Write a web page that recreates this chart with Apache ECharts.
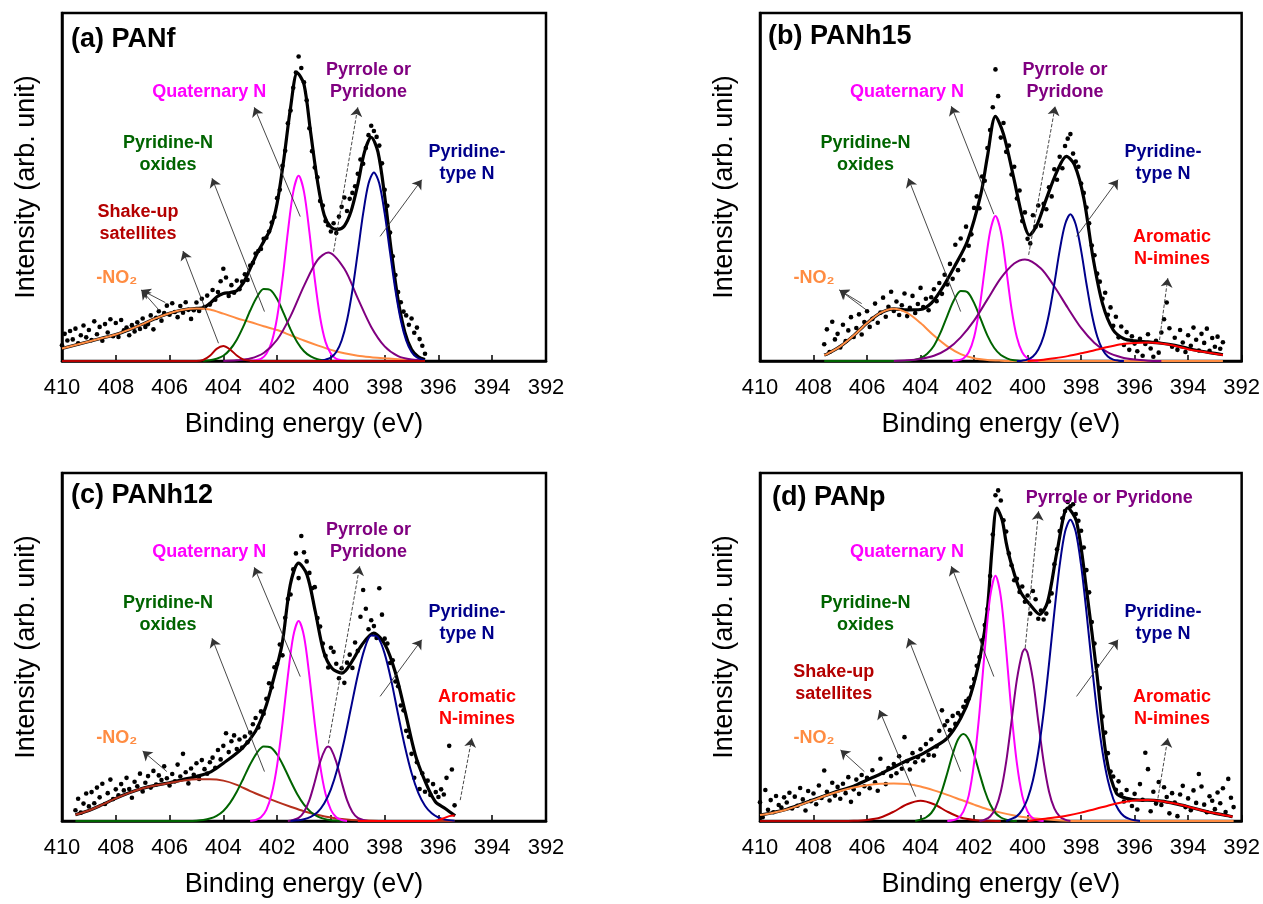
<!DOCTYPE html>
<html>
<head>
<meta charset="utf-8">
<title>XPS N1s deconvolution</title>
<script src="https://cdn.jsdelivr.net/npm/echarts@6/dist/echarts.min.js"></script>
<style>
  html, body { margin: 0; padding: 0; background: #fff; }
  #main { width: 1263px; height: 904px; }
</style>
</head>
<body>
<div id="main"></div>
<script>
// raw spectra are recorded on a 0.1 eV grid, starting at the given binding energy
const rawStep = 0.1;

// ---------- (a) PANf ----------
const aRawStart = 410.0;
const aRaw = [
  4.5, 7.8, 5.9, 8.6, 6.2, 9.3, 5.1, 7.4, 10.2, 6.8,
  8.9, 6.0, 11.4, 7.7, 9.8, 5.8, 10.6, 8.2, 12.0, 7.1,
  10.9, 6.9, 11.8, 8.8, 9.6, 7.4, 10.3, 8.5, 11.1, 9.2,
  12.2, 9.8, 10.6, 13.1, 9.1, 12.4, 14.3, 11.6, 13.8, 15.9,
  13.3, 16.6, 14.1, 12.6, 15.8, 13.9, 16.9, 14.7, 12.1, 14.6,
  16.8, 14.4, 17.9, 15.5, 18.8, 16.2, 20.4, 17.6, 19.8, 22.9,
  26.5, 24.0, 18.7, 21.8, 19.6, 23.1, 20.6, 22.8, 24.9, 23.3,
  27.4, 28.2, 30.9, 31.6, 32.2, 35.1, 35.4, 37.2, 39.8, 41.4,
  46.8, 49.2, 56.1, 60.4, 68.3, 72.0, 78.5, 82.9, 87.5, 84.2,
  80.1, 74.9, 66.9, 60.3, 55.6, 52.8, 46.0, 44.7, 40.2, 39.0,
  37.2, 39.6, 36.8, 41.5, 44.3, 47.0, 43.1, 46.6, 48.3, 50.2,
  53.8, 57.9, 56.7, 61.2, 64.9, 67.6, 66.1, 64.4, 61.9, 56.8,
  49.2, 44.6, 36.9, 30.1, 24.7, 19.8, 16.9, 14.2, 13.1, 10.4,
  12.2, 8.1, 9.6, 6.3, 4.4, 2.1
];
const aEnvelope = [[410,3.6],[409.5,4.6],[409,5.6],[408.5,6.6],[408,7.6],[407.5,9.0],[407,10.6],[406.5,12.3],[406,13.7],[405.5,14.7],[405,15.1],[404.75,15.3],[404.5,16.5],[404.25,18.4],[404,19.4],[403.75,19.7],[403.5,20.2],[403.25,22.5],[403,26.6],[402.75,30.8],[402.5,34.3],[402.25,37.9],[402,45.3],[401.75,58],[401.5,72.8],[401.25,82.8],[401,79.5],[400.75,65.5],[400.5,51.7],[400.25,42],[400,38.5],[399.75,37.8],[399.5,38.8],[399.25,43],[399,50.7],[398.75,60.1],[398.5,64.3],[398.25,60.1],[398,47.4],[397.75,31.4],[397.5,17.5],[397.25,8.3],[397,3.3],[396.75,1.2],[396.5,0.4]];
const aNO2 = [[410,3.6],[409.5,4.6],[409,5.6],[408.5,6.6],[408,7.6],[407.5,9.0],[407,10.6],[406.5,12.3],[406,13.7],[405.5,14.7],[405,15.1],[404.5,14.8],[404,13.6],[403.5,12.3],[403,11.2],[402.5,10.0],[402,8.9],[401.5,7.4],[401,5.9],[400.5,4.5],[400,3.2],[399.5,2.2],[399,1.5],[398.5,1.1],[398,0.8],[397.5,0.5],[397,0.3],[396.5,0.1]];
const aOxide = [[404.75,0],[404.5,0.2],[404.25,0.65],[404,1.5],[403.75,3.3],[403.5,6.1],[403.25,10.0],[403,14.5],[402.75,18.4],[402.5,20.7],[402.25,20.4],[402,17.8],[401.75,13.6],[401.5,9.1],[401.25,5.4],[401,2.8],[400.75,1.3],[400.5,0.5],[400.25,0.2],[400,0]];
const aQuat = [[403,0],[402.8,0.2],[402.6,0.6],[402.4,2.1],[402.2,5.5],[402,12.5],[401.8,23.5],[401.6,37.1],[401.4,48.6],[401.2,53.2],[401,48.6],[400.8,37.1],[400.6,23.5],[400.4,12.5],[400.2,5.5],[400,2.1],[399.8,0.6],[399.6,0.2],[399.4,0]];
const aPyrrole = [[404,0],[403.5,0.2],[403,0.7],[402.5,2.3],[402,6.1],[401.5,12.9],[401,21.6],[400.5,29.0],[400.1,31.2],[399.5,26.5],[399,18.0],[398.5,9.8],[398,4.2],[397.5,1.4],[397,0.4],[396.5,0.1]];
const aPyridine = [[400.4,0],[400.2,0.4],[400,1.0],[399.8,2.6],[399.6,5.9],[399.4,11.7],[399.2,20.3],[399,31.2],[398.8,42.4],[398.6,51.0],[398.4,54.2],[398.2,51.0],[398,42.4],[397.8,31.2],[397.6,20.3],[397.4,11.7],[397.2,5.9],[397,2.6],[396.8,1.0],[396.6,0.4],[396.5,0.2]];
const aShake = [[410,0],[405,0],[404.75,0.3],[404.5,1.5],[404.25,3.5],[404,4.3],[403.75,3.3],[403.5,1.6],[403.25,0.4],[403,0.1],[402.75,0],[396.5,0]];

// ---------- (b) PANh15 ----------
const bRawStart = 407.6;
const bRaw = [
  4.8, 9.1, 2.6, 11.3, 6.2, 7.8, 3.9,
  10.4, 5.7, 8.8, 12.6, 6.9, 9.5, 13.4, 7.6, 11.2, 14.3,
  9.8, 12.1, 16.5, 11.0, 13.9, 18.2, 12.7, 15.6, 19.9, 14.4,
  17.1, 13.2, 16.0, 19.4, 12.9, 15.3, 18.7, 13.8, 16.4, 21.0,
  15.5, 17.9, 14.6, 18.3, 20.6, 17.2, 22.4, 19.3, 24.8, 22.0,
  27.9, 23.6, 33.4, 26.1, 35.2, 29.0, 38.6, 33.1, 36.4, 44.0,
  47.3, 43.9, 53.0, 51.8, 61.2, 66.4, 72.9, 83.8, 76.1, 64.2,
  68.4, 60.1, 61.9, 53.6, 55.8, 46.7, 49.0, 40.2, 42.7, 35.1,
  33.8, 41.9, 38.6, 44.7, 38.9, 45.2, 43.6, 49.9, 47.3, 55.1,
  52.1, 58.7, 55.4, 61.8, 63.9, 65.2, 59.6, 57.3, 55.8, 51.0,
  48.3, 44.1, 39.6, 33.2, 30.4, 25.1, 22.8, 17.9, 19.6, 13.3,
  15.4, 10.1, 12.7, 6.8, 9.9, 4.6, 8.3, 3.2, 7.1, 5.0,
  2.8, 6.4, 1.5, 4.9, 7.7, 3.6, 1.2, 5.8, 2.4, 8.2,
  12.0, 16.8, 9.4, 4.1, 6.7, 3.2, 8.9, 5.3, 2.6, 7.4,
  4.4, 9.6, 6.1, 3.0, 7.8, 5.2, 9.3, 2.9, 6.6, 4.1,
  7.0, 3.5, 5.4
];
const bEnvelope = [[407.6,1.7],[407.5,2.0],[407,4.2],[406.5,7.3],[406,10.9],[405.5,13.8],[405,15.0],[404.5,14.7],[404,14.8],[403.6,16.6],[403.25,20.2],[402.75,26.9],[402.25,34.4],[401.75,47.8],[401.5,58.8],[401.2,70.3],[400.9,65.2],[400.5,52],[400.2,41.5],[399.93,36.2],[399.65,39.1],[399.3,46.6],[398.9,54.5],[398.55,58.8],[398.25,56.4],[397.9,46.8],[397.55,29.5],[397.2,16.5],[396.8,8.9],[396.4,6.4],[396,5.8],[395.5,5.5],[395,5.1],[394.5,4.5],[394,3.6],[393.5,2.8],[393,2.2],[392.7,1.8]];
const bNO2 = [[407.6,1.7],[407.5,2.0],[407,4.2],[406.5,7.3],[406,10.9],[405.5,13.8],[405,15.0],[404.5,13.8],[404,10.9],[403.5,7.3],[403,4.2],[402.5,2.0],[402,0.8],[401.5,0.3],[401,0.1],[400.5,0],[392.7,0]];
const bOxide = [[407.6,0],[404.5,0],[404.25,0.3],[404,0.8],[403.75,2.1],[403.5,4.4],[403.25,8.2],[403,13.0],[402.75,17.5],[402.5,20.1],[402.25,19.8],[402,16.7],[401.75,12.0],[401.5,7.3],[401.25,3.8],[401,1.7],[400.75,0.7],[400.5,0.2],[400.25,0]];
const bQuat = [[402.8,0],[402.6,0.2],[402.4,0.7],[402.2,2.5],[402,6.8],[401.8,15.0],[401.6,26.5],[401.4,37.2],[401.2,41.7],[401,37.2],[400.8,26.5],[400.6,15.0],[400.4,6.8],[400.2,2.5],[400,0.7],[399.8,0.2],[399.6,0]];
const bPyrrole = [[405,0],[404.5,0.2],[404,0.6],[403.5,1.5],[403,3.4],[402.5,6.8],[402,11.6],[401.5,17.7],[401,23.8],[400.5,28.0],[400.1,29.2],[399.5,26.6],[399,21.4],[398.5,15.3],[398,9.5],[397.5,5.2],[397,2.5],[396.5,1.1],[396,0.4],[395.5,0.1],[395,0]];
const bPyridine = [[400.4,0],[400.2,0.1],[400,0.4],[399.8,1.3],[399.6,3.3],[399.4,7.1],[399.2,13.5],[399,22.2],[398.8,31.8],[398.6,39.2],[398.4,42.2],[398.2,39.2],[398,31.8],[397.8,22.2],[397.6,13.5],[397.4,7.1],[397.2,3.3],[397,1.3],[396.8,0.4],[396.6,0.1],[396.4,0]];
const bImine = [[400,0],[399.5,0.3],[399,0.8],[398.5,1.4],[398,2.2],[397.5,3.1],[397,4.0],[396.5,4.8],[396,5.2],[395.5,5.3],[395,5.0],[394.5,4.4],[394,3.4],[393.5,2.7],[393,2.1],[392.7,1.7]];

// ---------- (c) PANh12 ----------
const cRawStart = 409.5;
const cRaw = [
  3.1, 6.4, 2.4, 5.0, 7.9, 4.2,
  8.3, 5.1, 9.6, 6.8, 10.7, 4.9, 8.0, 11.9, 6.3, 9.1,
  7.4, 10.6, 8.8, 12.4, 9.2, 6.7, 11.3, 10.0, 13.6, 8.5,
  11.0, 12.9, 9.6, 14.4, 10.5, 13.1, 11.8, 15.7, 12.3, 10.2,
  13.5, 11.4, 16.2, 12.8, 19.3, 14.0, 10.8, 15.1, 13.3, 16.6,
  12.1, 17.5, 14.9, 13.6, 16.9, 18.2, 15.3, 20.4, 17.7, 21.6,
  25.2, 19.8, 22.9, 24.6, 20.7, 23.4, 21.1, 24.3, 22.6, 25.4,
  27.8, 29.6, 26.9, 31.5, 30.8, 35.1, 39.6, 38.4, 44.2, 45.1,
  50.7, 47.6, 58.4, 63.8, 65.1, 72.3, 76.9, 69.8, 81.9, 77.2,
  74.6, 71.3, 66.9, 67.2, 58.3, 55.9, 51.0, 47.5, 44.1, 49.8,
  48.6, 45.2, 41.0, 43.9, 39.7, 45.5, 47.8, 44.0, 51.3, 48.9,
  58.7, 66.4, 61.0, 55.1, 57.7, 56.0, 52.6, 66.9, 59.3, 52.4,
  51.0, 45.4, 46.2, 40.1, 38.7, 33.2, 31.8, 25.9, 24.2, 19.3,
  12.4, 16.9, 9.2, 13.7, 8.4, 11.6, 7.5, 10.6, 8.3, 6.9,
  9.1, 7.6, 12.4, 21.6, 14.8, 4.5
];
const cEnvelope = [[409.5,1.8],[409,3.0],[408.5,4.7],[408,6.5],[407.5,8.1],[407,9.4],[406.5,10.3],[406,11.0],[405.5,11.9],[405,12.8],[404.45,14.2],[404,16.6],[403.3,20.9],[402.81,25.7],[402.44,32.4],[402.19,39.1],[401.82,50.6],[401.51,67.9],[401.2,74.1],[400.89,70.8],[400.58,60.2],[400.27,48.7],[399.96,43.9],[399.59,42.5],[399.22,45.8],[398.85,50.6],[398.41,54.0],[397.98,50.6],[397.61,42.9],[397.24,31.4],[396.86,19.0],[396.49,11.3],[396.12,5.6],[395.75,3.6],[395.38,1.5]];
const cNO2 = [[409.5,1.8],[409,3.0],[408.5,4.7],[408,6.5],[407.5,8.1],[407,9.4],[406.5,10.3],[406,10.9],[405.5,11.6],[405,12.0],[404.5,12.0],[404,11.6],[403.5,10.4],[403,8.6],[402.5,7.0],[402,5.5],[401.5,4.1],[401,2.8],[400.5,1.8],[400,1.0],[399.5,0.5],[399,0.2],[398,0],[395.4,0]];
const cOxide = [[409.5,0],[405.25,0],[405,0.1],[404.75,0.3],[404.5,0.7],[404.25,1.5],[404,2.9],[403.75,5.2],[403.5,8.4],[403.25,12.3],[403,16.3],[402.75,19.6],[402.5,21.4],[402.25,21.2],[402,19.1],[401.75,15.6],[401.5,11.5],[401.25,7.7],[401,4.7],[400.75,2.6],[400.5,1.3],[400.25,0.6],[400,0.2],[399.75,0.1],[399.5,0]];
const cQuat = [[403,0],[402.8,0.3],[402.6,1.1],[402.4,3.2],[402.2,7.8],[402,16.0],[401.8,28.0],[401.6,41.7],[401.4,53.1],[401.2,57.5],[401,53.1],[400.8,41.7],[400.6,28.0],[400.4,16.0],[400.2,7.8],[400,3.2],[399.8,1.1],[399.6,0.3],[399.4,0]];
const cPyrrole = [[401.6,0],[401.4,0.3],[401.2,0.9],[401,2.6],[400.8,6.0],[400.6,11.2],[400.4,17.0],[400.2,20.8],[400.1,21.4],[400,20.8],[399.8,17.0],[399.6,11.2],[399.4,6.0],[399.2,2.6],[399,0.9],[398.8,0.3],[398.6,0]];
const cPyridine = [[401.5,0],[401.25,0.2],[401,0.5],[400.75,1.2],[400.5,2.5],[400.25,5.0],[400,9.1],[399.75,15.2],[399.5,23.3],[399.25,32.6],[399,41.9],[398.75,49.4],[398.5,53.3],[398.25,52.8],[398,48.1],[397.75,40.2],[397.5,30.6],[397.25,21.5],[397,13.8],[396.75,8.1],[396.5,4.4],[396.25,2.2],[396,1.0],[395.75,0.4],[395.4,0.1]];
const cImine = [[399,0],[396.2,0],[396,0.3],[395.8,0.8],[395.6,1.4],[395.4,1.6]];

// ---------- (d) PANp ----------
const dRawStart = 410.0;
const dRaw = [
  5.4, 1.1, 8.9, 3.2, 6.0, 2.5, 7.2, 4.6, 3.9, 6.8,
  5.3, 8.1, 3.6, 7.0, 4.4, 9.5, 6.2, 3.0, 8.6, 5.7,
  7.9, 4.8, 10.2, 6.6, 14.5, 8.4, 5.9, 11.0, 7.3, 9.8,
  6.4, 10.7, 8.0, 12.6, 5.5, 9.1, 11.9, 7.8, 13.2, 10.0,
  12.4, 9.4, 14.6, 11.1, 8.7, 17.9, 13.8, 10.6, 15.2, 12.9,
  16.4, 13.7, 18.6, 15.0, 24.1, 17.2, 14.8, 19.5, 16.9, 18.3,
  20.6, 17.4, 22.1, 19.0, 23.5, 18.8, 21.4, 25.9, 31.8, 27.5,
  28.7, 26.1, 30.2, 27.9, 31.0, 30.3, 32.8, 34.5, 35.2, 38.4,
  40.8, 44.6, 47.1, 51.9, 56.3, 60.9, 70.4, 82.3, 93.6, 95.0,
  92.1, 86.4, 83.2, 76.9, 73.5, 69.2, 69.6, 65.8, 67.4, 63.0,
  64.8, 59.6, 66.1, 63.7, 58.1, 60.5, 57.9, 59.6, 63.1, 65.4,
  73.8, 78.1, 83.3, 87.0, 89.1, 91.7, 90.4, 91.0, 88.2, 86.3,
  83.4, 78.6, 72.1, 65.7, 57.2, 51.0, 44.6, 38.2, 30.0, 25.4,
  19.5, 14.2, 12.8, 9.0, 11.4, 7.7, 5.6, 8.9, 6.0, 4.3,
  7.8, 3.3, 10.6, 6.1, 19.6, 14.9, 2.8, 8.4, 5.0, 11.2,
  4.6, 9.7, 6.9, 2.2, 8.0, 5.3, 1.4, 7.6, 10.1, 4.0,
  6.5, 3.1, 8.8, 5.2, 13.5, 9.9, 4.7, 2.5, 7.1, 5.8,
  3.4, 8.2, 5.1, 9.4, 2.6, 12.1, 6.7, 4.0
];
const dEnvelope = [[410,1.7],[409,3.4],[408,6.1],[407,8.8],[406.5,10.0],[406,11.8],[405.5,13.5],[405,15.5],[404.5,17.4],[404,19.0],[403.5,21.2],[403,23.8],[402.5,29.5],[402.13,36.2],[401.76,47.7],[401.5,61.1],[401.32,79.0],[401.15,89.9],[400.95,86.5],[400.8,80.0],[400.64,74.8],[400.27,66.0],[399.9,62.1],[399.55,59.4],[399.25,63.0],[398.9,77.4],[398.5,90.0],[398.17,86.1],[397.79,66.0],[397.42,43.0],[397.05,18.0],[396.68,8.0],[396.3,6.5],[395.8,6.0],[395.5,6.0],[395,5.7],[394.5,5.0],[394,4.1],[393.5,3.1],[393,2.2],[392.5,1.5],[392.34,1.2]];
const dNO2 = [[410,1.7],[409.5,2.4],[409,3.3],[408.5,4.6],[408,6.0],[407.5,7.4],[407,8.6],[406.5,9.6],[406,10.3],[405.5,10.7],[405,10.8],[404.5,10.6],[404,9.9],[403.5,8.8],[403,7.5],[402.5,6.1],[402,4.7],[401.5,3.4],[401,2.4],[400.5,1.6],[400,1.0],[399.5,0.6],[399,0.3],[398.5,0.1],[398,0],[392.3,0]];
const dShake = [[410,0],[407,0],[406.5,0.05],[406,0.3],[405.5,1.0],[405,2.7],[404.5,4.8],[404,5.8],[403.5,4.8],[403,2.7],[402.5,1.0],[402,0.3],[401.5,0.05],[401,0]];
const dOxide = [[404.2,0],[404,0.4],[403.8,1.0],[403.6,2.3],[403.4,4.8],[403.2,8.7],[403,13.8],[402.8,19.2],[402.6,23.4],[402.4,25.0],[402.2,23.4],[402,19.2],[401.8,13.8],[401.6,8.7],[401.4,4.8],[401.2,2.3],[401,1.0],[400.8,0.4],[400.6,0.1],[400.4,0]];
const dQuat = [[403,0],[402.8,0.2],[402.6,0.8],[402.4,2.7],[402.2,7.3],[402,16.6],[401.8,31.0],[401.6,49.1],[401.4,64.4],[401.2,70.5],[401,64.4],[400.8,49.1],[400.6,31.0],[400.4,16.6],[400.2,7.3],[400,2.7],[399.8,0.8],[399.6,0.2],[399.4,0]];
const dPyrrole = [[401.8,0],[401.6,0.4],[401.4,1.3],[401.2,3.6],[401,8.5],[400.8,17.0],[400.6,28.7],[400.4,40.6],[400.2,48.3],[400.1,49.4],[400,48.3],[399.8,40.6],[399.6,28.7],[399.4,17.0],[399.2,8.5],[399,3.6],[398.8,1.3],[398.6,0.4],[398.4,0]];
const dPyridine = [[400.8,0],[400.6,0.6],[400.4,1.4],[400.2,3.2],[400,6.4],[399.8,11.7],[399.6,19.9],[399.4,31.2],[399.2,45.1],[399,60.0],[398.8,73.5],[398.6,83.1],[398.4,86.6],[398.2,83.1],[398,73.5],[397.8,60.0],[397.6,45.1],[397.4,31.2],[397.2,19.9],[397,11.7],[396.8,6.4],[396.6,3.2],[396.4,1.4],[396.2,0.6],[396,0.2],[395.8,0]];
const dImine = [[400,0],[399.5,0.5],[399,1.0],[398.5,1.6],[398,2.4],[397.5,3.4],[397,4.4],[396.5,5.3],[396,5.9],[395.5,6.0],[395,5.7],[394.5,5.0],[394,4.1],[393.5,3.1],[393,2.2],[392.5,1.5],[392.34,1.2]];

// x axis ticks
const tickMin = 392, tickMax = 410, tickStep = 2;

const FONT = 'Liberation Sans, Arial, Helvetica, sans-serif';
const C = {
  no2: '#ff8c42', no2c: '#b5301c', shake: '#b40000', oxide: '#006400',
  quat: '#ff00ff', pyrrole: '#800080', pyridine: '#00008b', imine: '#ff0000'
};

// annotation text: [text, colour, E, I]; arrows: [E from, I from, E to, I to, dashed]
const T = {
  quat: 'Quaternary N', pyr: 'Pyrrole or\nPyridone', ox: 'Pyridine-N\noxides',
  py: 'Pyridine-\ntype N', sh: 'Shake-up\nsatellites', im: 'Aromatic\nN-imines', no2: '-NO\u2082'
};

const panels = [
  {
    title: '(a) PANf', titlePos: [71, 24],
    grid: { left: 62, top: 13, width: 484, height: 348 },
    rawStart: aRawStart, raw: aRaw, envelope: aEnvelope,
    comps: [[aNO2, C.no2], [aOxide, C.oxide], [aQuat, C.quat], [aPyrrole, C.pyrrole], [aPyridine, C.pyridine], [aShake, C.shake]],
    notes: [[T.quat, C.quat, 404.52, 77.2], [T.pyr, C.pyrrole, 398.6, 80.5], [T.ox, C.oxide, 406.06, 59.5],
            [T.py, C.pyridine, 394.94, 56.9], [T.sh, C.shake, 407.17, 39.6], [T.no2, C.no2, 407.96, 23.8]],
    arrows: [[401.14, 41.5, 402.85, 72.9], [399.9, 31.4, 399.0, 72.9, true], [402.47, 14.2, 404.42, 52.5],
             [398.17, 35.8, 396.62, 52.1], [404.18, 5.1, 405.5, 31.6], [406.16, 16.8, 407.05, 20.4], [406.4, 14.7, 407.05, 20.4]]
  },
  {
    title: '(b) PANh15', titlePos: [768, 21],
    grid: { left: 760, top: 13, width: 484, height: 348 },
    rawStart: bRawStart, raw: bRaw, envelope: bEnvelope,
    comps: [[bNO2, C.no2], [bOxide, C.oxide], [bQuat, C.quat], [bPyrrole, C.pyrrole], [bPyridine, C.pyridine], [bImine, C.imine]],
    notes: [[T.quat, C.quat, 404.51, 77.3], [T.pyr, C.pyrrole, 398.6, 80.5], [T.ox, C.oxide, 406.06, 59.5],
            [T.py, C.pyridine, 394.94, 56.9], [T.im, C.imine, 394.6, 32.4], [T.no2, C.no2, 407.98, 23.8]],
    arrows: [[401.26, 42.2, 402.85, 73.2], [399.96, 30.5, 398.97, 73.2, true], [402.5, 14.2, 404.46, 52.5],
             [398.17, 35.8, 396.62, 52.1], [395.07, 6.0, 394.76, 23.8, true], [406.03, 14.7, 407.03, 20.4], [406.2, 16.5, 407.03, 20.4]]
  },
  {
    title: '(c) PANh12', titlePos: [71, 480],
    grid: { left: 62, top: 473, width: 484, height: 348 },
    rawStart: cRawStart, raw: cRaw, envelope: cEnvelope,
    comps: [[cNO2, C.no2c], [cOxide, C.oxide], [cQuat, C.quat], [cPyrrole, C.pyrrole], [cPyridine, C.pyridine], [cImine, C.imine]],
    notes: [[T.quat, C.quat, 404.52, 77.2], [T.pyr, C.pyrrole, 398.6, 80.5], [T.ox, C.oxide, 406.06, 59.5],
            [T.py, C.pyridine, 394.94, 56.9], [T.im, C.imine, 394.57, 32.4], [T.no2, C.no2, 407.96, 23.8]],
    arrows: [[401.14, 41.5, 402.85, 72.9], [400.09, 22.3, 398.93, 73.2, true], [402.47, 14.2, 404.42, 52.5],
             [398.17, 35.8, 396.62, 52.1], [395.19, 6.0, 394.76, 23.8, true], [406.1, 14.2, 407.0, 20.1]]
  },
  {
    title: '(d) PANp', titlePos: [772, 482],
    grid: { left: 760, top: 473, width: 484, height: 348 },
    rawStart: dRawStart, raw: dRaw, envelope: dEnvelope,
    comps: [[dNO2, C.no2], [dShake, C.shake], [dOxide, C.oxide], [dQuat, C.quat], [dPyrrole, C.pyrrole], [dPyridine, C.pyridine], [dImine, C.imine]],
    notes: [[T.quat, C.quat, 404.51, 77.3], ['Pyrrole or Pyridone', C.pyrrole, 396.95, 92.8], [T.ox, C.oxide, 406.06, 59.5],
            [T.py, C.pyridine, 394.94, 56.9], [T.sh, C.shake, 407.24, 39.6], [T.im, C.imine, 394.6, 32.4], [T.no2, C.no2, 407.98, 23.8]],
    arrows: [[401.26, 41.5, 402.85, 73.2], [400.09, 49.7, 399.59, 89.0, true], [402.5, 14.2, 404.46, 52.5],
             [398.17, 35.8, 396.62, 52.1], [404.18, 7.0, 405.54, 31.9], [395.13, 6.5, 394.76, 23.8, true], [406.1, 14.2, 406.99, 20.4]]
  }
];

function rawPoints(start, vals) {
  return vals.map((v, i) => [+(start - i * rawStep).toFixed(2), v]);
}

const grids = [], xAxes = [], yAxes = [], series = [], titles = [];

panels.forEach((p, k) => {
  grids.push(Object.assign({ show: true, borderColor: '#000', borderWidth: 2.5, backgroundColor: '#fff' }, p.grid));
  xAxes.push({
    gridIndex: k, type: 'value', min: tickMin, max: tickMax, interval: tickStep, inverse: true,
    name: 'Binding energy (eV)', nameLocation: 'middle', nameGap: 50,
    nameTextStyle: { fontSize: 27, color: '#000', fontFamily: FONT },
    axisLine: { lineStyle: { color: '#000', width: 2.5 } },
    axisTick: { inside: true, length: 6, lineStyle: { color: '#000', width: 1.5 } },
    axisLabel: { fontSize: 22, color: '#000', fontFamily: FONT, margin: 16 },
    splitLine: { show: false }
  });
  yAxes.push({
    gridIndex: k, type: 'value', min: 0, max: 100,
    name: 'Intensity (arb. unit)', nameLocation: 'middle', nameGap: 22, nameRotate: 90,
    nameTextStyle: { fontSize: 27, color: '#000', fontFamily: FONT },
    axisLine: { show: true, lineStyle: { color: '#000', width: 2.5 } },
    axisTick: { show: false }, axisLabel: { show: false }, splitLine: { show: false }
  });
  titles.push({
    text: p.title, left: p.titlePos[0], top: p.titlePos[1], padding: 0,
    textStyle: { fontSize: 27, fontWeight: 'bold', color: '#000', fontFamily: FONT, lineHeight: 32 }
  });

  series.push({
    type: 'scatter', xAxisIndex: k, yAxisIndex: k, data: rawPoints(p.rawStart, p.raw),
    symbol: 'circle', symbolSize: 4.6, itemStyle: { color: '#000', opacity: 1 }, silent: true, z: 2
  });
  series.push({
    type: 'line', xAxisIndex: k, yAxisIndex: k, data: p.envelope, smooth: 0.3,
    symbol: 'none', lineStyle: { color: '#000', width: 3.2 }, silent: true, z: 3
  });
  p.comps.forEach(([data, color]) => {
    series.push({
      type: 'line', xAxisIndex: k, yAxisIndex: k, data: data, smooth: 0.3,
      symbol: 'none', lineStyle: { color: color, width: 2 }, silent: true, z: 4
    });
  });
  series.push({
    type: 'line', xAxisIndex: k, yAxisIndex: k, data: [], z: 5, silent: true,
    markLine: {
      silent: true, animation: false, symbol: ['none', 'arrow'], symbolSize: 9,
      label: { show: false },
      lineStyle: { color: '#333', width: 0.9, type: 'solid' },
      data: p.arrows.map(a => [
        { coord: [a[0], a[1]], lineStyle: { type: a[4] ? 'dashed' : 'solid' } },
        { coord: [a[2], a[3]] }
      ])
    },
    markPoint: {
      silent: true, animation: false,
      data: p.notes.map(n => ({
        coord: [n[2], n[3]], symbol: 'rect', symbolSize: 1,
        itemStyle: { color: 'rgba(0,0,0,0)' },
        label: {
          show: true, position: 'inside', formatter: n[0], color: n[1],
          fontSize: 18, fontWeight: 'bold', fontFamily: FONT, lineHeight: 22, align: 'center'
        }
      }))
    }
  });
});

const chart = echarts.init(document.getElementById('main'), null, { renderer: 'canvas' });
chart.setOption({
  animation: false,
  backgroundColor: '#fff',
  title: titles,
  grid: grids,
  xAxis: xAxes,
  yAxis: yAxes,
  series: series
});
</script>
</body>
</html>
